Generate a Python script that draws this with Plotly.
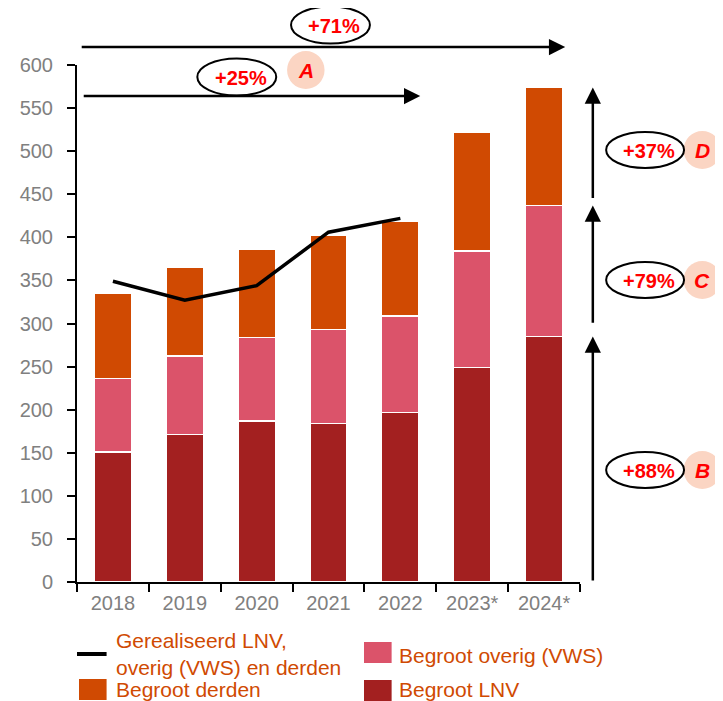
import plotly.graph_objects as go

years = ["2018", "2019", "2020", "2021", "2022", "2023*", "2024*"]
begroot_lnv = [151, 171, 187, 184, 197, 249, 285]
begroot_overig = [85, 91, 97, 109, 112, 135, 152]
begroot_derden = [99, 103, 102, 110, 110, 138, 137]
line_years = ["2018", "2019", "2020", "2021", "2022"]
gerealiseerd = [349, 327, 344, 406, 422]

growth_labels = ["+71%", "+25%", "+88%", "+79%", "+37%"]
growth_letters = ["", "A", "B", "C", "D"]

C_LNV = "#a32020"
C_OVERIG = "#db536a"
C_DERDEN = "#d04a02"
C_TEXT = "#d04a02"
C_PEACH = "#fbd5c3"
FONT = "Arial, Liberation Sans, sans-serif"

# the page body adds an 8px offset, so the figure is 8px smaller
OFF = 8
W, H = 723 - OFF, 701 - OFF
L, R, T, B = 70 - OFF, 143, 65 - OFF, 119
PW, PH = W - L - R, H - T - B


def px(x):
    # x in screenshot pixels -> paper
    return (x - OFF - L) / PW


def py(y):
    return (H - B - (y - OFF)) / PH


fig = go.Figure()
for name, vals, col in [("Begroot LNV", begroot_lnv, C_LNV),
                        ("Begroot overig (VWS)", begroot_overig, C_OVERIG),
                        ("Begroot derden", begroot_derden, C_DERDEN)]:
    fig.add_trace(go.Bar(x=years, y=vals, name=name, marker_color=col,
                         marker_line=dict(color="white", width=1.5)))

fig.add_trace(go.Scatter(x=line_years, y=gerealiseerd, mode="lines",
                         line=dict(color="black", width=3.5),
                         name="Gerealiseerd LNV, overig (VWS) en derden"))

shapes = []
ann = []


def ellipse(cx, cy, w, h, text):
    shapes.append(dict(type="circle", xref="paper", yref="paper",
                       x0=px(cx - w / 2), x1=px(cx + w / 2),
                       y0=py(cy + h / 2), y1=py(cy - h / 2),
                       line=dict(color="black", width=2), fillcolor="white"))
    ann.append(dict(x=px(cx + 4), y=py(cy + 1), xref="paper", yref="paper",
                    xanchor="center", yanchor="middle",
                    text="<b>%s</b>" % text, showarrow=False,
                    font=dict(family=FONT, size=20, color="#ff0000")))


def badge(cx, cy, text):
    r = 19
    shapes.append(dict(type="circle", xref="paper", yref="paper",
                       x0=px(cx - r), x1=px(cx + r), y0=py(cy + r), y1=py(cy - r),
                       line=dict(width=0), fillcolor=C_PEACH))
    ann.append(dict(x=px(cx), y=py(cy), xref="paper", yref="paper",
                    xanchor="center", yanchor="middle",
                    text="<b><i>%s</i></b>" % text, showarrow=False,
                    font=dict(family=FONT, size=21, color="#ff0000")))


def harrow(x_head, y, length):
    ann.append(dict(x=px(x_head), y=py(y), ax=-length, ay=0,
                    xref="paper", yref="paper", axref="pixel", ayref="pixel",
                    text="", showarrow=True, arrowhead=2, arrowsize=1.3,
                    arrowwidth=2.5, arrowcolor="black", standoff=0))


harrow(565, 47, 485)
harrow(418, 96, 338)

# vertical arrows along the 2024 bar
lnv24 = begroot_lnv[-1]
ov24 = lnv24 + begroot_overig[-1]
tot24 = ov24 + begroot_derden[-1]
for y0, y1 in [(0, lnv24), (lnv24 + 14, ov24), (ov24 + 7, tot24)]:
    ann.append(dict(x=px(593), y=y1, xref="x domain", yref="y",
                    ax=px(593), ay=y0, axref="x domain", ayref="y",
                    text="", showarrow=True, arrowhead=2, arrowsize=1.3,
                    arrowwidth=2.5, arrowcolor="black", standoff=0))

# badges first so the ellipse outlines sit on top of them
badge(302, 70, growth_letters[1])
badge(704, 470, growth_letters[2])
badge(704, 280, growth_letters[3])
badge(704, 150, growth_letters[4])
ellipse(327, 25, 80, 37, growth_labels[0])
ellipse(232, 77, 80, 37, growth_labels[1])
ellipse(646, 470, 79, 36, growth_labels[2])
ellipse(646, 280, 79, 36, growth_labels[3])
ellipse(646, 150, 79, 36, growth_labels[4])

# manual legend
shapes.append(dict(type="line", xref="paper", yref="paper",
                   x0=px(70), x1=px(100), y0=py(654), y1=py(654),
                   line=dict(color="black", width=4)))
for x0, y0, col in [(72, 679, C_DERDEN), (361, 642, C_OVERIG), (361, 680, C_LNV)]:
    shapes.append(dict(type="rect", xref="paper", yref="paper",
                       x0=px(x0), x1=px(x0 + 28), y0=py(y0 + 21), y1=py(y0),
                       line=dict(width=0), fillcolor=col))
for x, y, text in [(108, 654, "Gerealiseerd LNV,<br>overig (VWS) en derden"),
                   (108, 689, "Begroot derden"),
                   (394, 655, "Begroot overig (VWS)"),
                   (394, 689, "Begroot LNV")]:
    ann.append(dict(x=px(x), y=py(y), xref="paper", yref="paper",
                    xanchor="left", yanchor="middle", align="left",
                    text=text, showarrow=False,
                    font=dict(family=FONT, size=21, color=C_TEXT)))

fig.update_layout(
    barmode="stack",
    bargap=0.48,
    width=W, height=H,
    margin=dict(l=L, r=R, t=T, b=B),
    plot_bgcolor="white", paper_bgcolor="white",
    showlegend=False,
    font=dict(family=FONT, size=20, color="#808080"),
    shapes=shapes,
    annotations=ann,
    xaxis=dict(showline=True, linecolor="black", linewidth=2,
               ticks="outside", tickson="boundaries", ticklen=8,
               tickwidth=2, tickcolor="black", showgrid=False,
               ticklabelstandoff=2,
               tickfont=dict(size=20, color="#808080")),
    yaxis=dict(range=[0, 600], dtick=50, showline=True, linecolor="black",
               linewidth=2, ticks="outside", ticklen=8, tickwidth=2,
               tickcolor="black", showgrid=False, zeroline=False,
               ticklabelstandoff=10,
               tickfont=dict(size=20, color="#808080")),
)

fig.write_html("out.html")
